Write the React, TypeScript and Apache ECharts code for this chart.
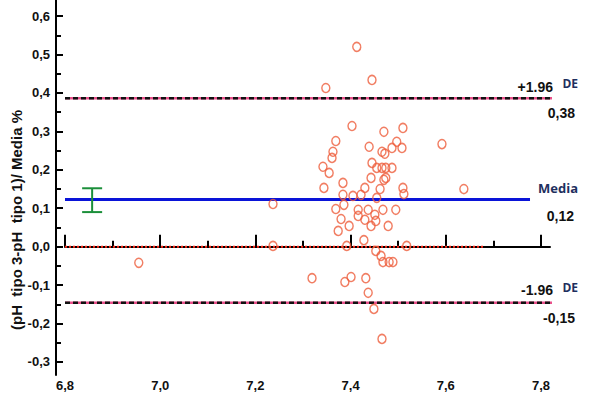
import React, { useEffect, useRef } from "react";
import * as echarts from "echarts";

// Axis ranges and tick labels
const X_MIN = 6.8;
const X_MAX = 7.819;
const Y_MIN = -0.334;
const Y_MAX = 0.642;
const X_TICKS = [6.8, 7.0, 7.2, 7.4, 7.6, 7.8];
const X_MINOR = [6.9, 7.1, 7.3, 7.5, 7.7];
const Y_TICKS = [-0.3, -0.2, -0.1, 0, 0.1, 0.2, 0.3, 0.4, 0.5, 0.6];
const Y_MINOR = [-0.25, -0.15, -0.05, 0.05, 0.15, 0.25, 0.35, 0.45, 0.55];

// Scatter: mean pH (x) vs relative difference (y)
const POINTS_X = [
  6.955, 7.237, 7.237, 7.413, 7.445, 7.348, 7.592, 7.638, 7.518, 7.403,
  7.47, 7.51, 7.369, 7.497, 7.439, 7.487, 7.508, 7.363, 7.466, 7.472,
  7.361, 7.445, 7.342, 7.355, 7.455, 7.466, 7.474, 7.487, 7.443, 7.474,
  7.47, 7.384, 7.344, 7.43, 7.462, 7.51, 7.512, 7.384, 7.405, 7.422,
  7.455, 7.386, 7.369, 7.416, 7.437, 7.468, 7.495, 7.38, 7.416, 7.43,
  7.451, 7.453, 7.397, 7.443, 7.479, 7.374, 7.428, 7.392, 7.453, 7.464,
  7.468, 7.481, 7.489, 7.319, 7.401, 7.388, 7.432, 7.437, 7.449, 7.466,
];
const POINTS_Y = [
  -0.042, 0.111, 0.002, 0.52, 0.434, 0.413, 0.267, 0.15, 0.002, 0.314,
  0.299, 0.309, 0.275, 0.273, 0.26, 0.257, 0.257, 0.247, 0.247, 0.242,
  0.231, 0.218, 0.208, 0.192, 0.205, 0.205, 0.205, 0.205, 0.179, 0.179,
  0.174, 0.166, 0.153, 0.153, 0.15, 0.153, 0.137, 0.135, 0.132, 0.135,
  0.127, 0.109, 0.098, 0.096, 0.096, 0.096, 0.096, 0.072, 0.08, 0.07,
  0.083, 0.067, 0.054, 0.054, 0.054, 0.041, 0.017, 0.002, -0.011, -0.024,
  -0.04, -0.04, -0.04, -0.082, -0.079, -0.092, -0.082, -0.12, -0.162, -0.24,
];

// Reference lines
const MEAN = 0.123;
const UPPER = 0.386;
const LOWER = -0.146;
const LINE_START = 6.8;
const LIMIT_END = 7.871;
const MEAN_END = 7.777;
const ZERO_END = 7.68;
// Confidence interval of the mean: [x, low, high]
const CI = [6.857, 0.09, 0.152];

const LABEL_UPPER = "+1.96";
const LABEL_LOWER = "-1.96";
const LABEL_DE = "DE";
const LABEL_MEDIA = "Media";
const VAL_UPPER = "0,38";
const VAL_MEAN = "0,12";
const VAL_LOWER = "-0,15";
const Y_NAME = "(pH  tipo 3-pH  tipo 1)/ Media %";

const SANS = "'Liberation Sans', Arial, sans-serif";
const fmt = (v: number) => v.toFixed(1).replace(".", ",");

export default function App() {
  const ref = useRef<HTMLDivElement>(null);
  useEffect(() => {
    if (!ref.current) return;
    const chart = echarts.init(ref.current, undefined, { renderer: "svg" });
    const pts = POINTS_X.map((x, i) => [x, POINTS_Y[i]]);
    const axisFont = { fontFamily: SANS, fontWeight: "bold" as const, fontSize: 13, color: "#111" };
    const option: any = {
      animation: false,
      backgroundColor: "#fff",
      grid: { left: 65, right: 50, top: 0, bottom: 45 },
      xAxis: [
        {
          type: "value", min: X_MIN, max: X_MAX, position: "bottom",
          axisLine: { show: true, lineStyle: { color: "#000", width: 2 } },
          axisTick: { show: true, inside: true, length: 12, lineStyle: { color: "#000", width: 2 }, customValues: X_TICKS },
          axisLabel: { show: true, customValues: X_TICKS, formatter: fmt, margin: 4, ...axisFont },
          splitLine: { show: false },
        },
        {
          type: "value", min: X_MIN, max: X_MAX, position: "bottom",
          axisLine: { show: false },
          axisTick: { show: true, inside: true, length: 6, lineStyle: { color: "#000", width: 2 }, customValues: X_MINOR },
          axisLabel: { show: false },
          splitLine: { show: false },
        },
      ],
      yAxis: [
        {
          type: "value", min: Y_MIN, max: Y_MAX, position: "left", offset: 9,
          axisLine: { show: true, lineStyle: { color: "#000", width: 2 } },
          axisTick: { show: true, inside: true, length: 7, lineStyle: { color: "#000", width: 2 }, customValues: Y_TICKS },
          axisLabel: { show: true, customValues: Y_TICKS, formatter: fmt, margin: 6, ...axisFont },
          splitLine: { show: false },
        },
        {
          type: "value", min: Y_MIN, max: Y_MAX, position: "left", offset: 9,
          axisLine: { show: false },
          axisTick: { show: true, inside: true, length: 5, lineStyle: { color: "#000", width: 2 }, customValues: Y_MINOR },
          axisLabel: { show: false },
          splitLine: { show: false },
        },
      ],
      series: [
        {
          type: "line", data: [[LINE_START, 0], [ZERO_END, 0]], symbol: "none", clip: false,
          lineStyle: { color: "#ff2a1a", width: 2, type: [2, 2] }, z: 2,
        },
        {
          type: "line", data: [[LINE_START, MEAN], [MEAN_END, MEAN]], symbol: "none", clip: false,
          lineStyle: { color: "#0a14d8", width: 3 }, z: 2,
        },
        {
          type: "line", data: [[LINE_START, UPPER], [LIMIT_END, UPPER]], symbol: "none", clip: false,
          lineStyle: { color: "#e8508a", width: 2.5 }, z: 2,
        },
        {
          type: "line", data: [[LINE_START, UPPER], [LIMIT_END, UPPER]], symbol: "none", clip: false,
          lineStyle: { color: "#111", width: 2.5, type: [5, 3] }, z: 3,
        },
        {
          type: "line", data: [[LINE_START, LOWER], [LIMIT_END, LOWER]], symbol: "none", clip: false,
          lineStyle: { color: "#e8508a", width: 2.5 }, z: 2,
        },
        {
          type: "line", data: [[LINE_START, LOWER], [LIMIT_END, LOWER]], symbol: "none", clip: false,
          lineStyle: { color: "#111", width: 2.5, type: [5, 3] }, z: 3,
        },
        {
          type: "custom", data: [CI], z: 4, clip: false,
          renderItem: (params: any, api: any) => {
            const top = api.coord([api.value(0), api.value(2)]);
            const bot = api.coord([api.value(0), api.value(1)]);
            const hw = 10;
            const st = { stroke: "#1b8f3a", lineWidth: 2 };
            return {
              type: "group",
              children: [
                { type: "line", shape: { x1: top[0], y1: top[1], x2: bot[0], y2: bot[1] }, style: st },
                { type: "line", shape: { x1: top[0] - hw, y1: top[1], x2: top[0] + hw, y2: top[1] }, style: st },
                { type: "line", shape: { x1: bot[0] - hw, y1: bot[1], x2: bot[0] + hw, y2: bot[1] }, style: st },
              ],
            };
          },
        },
        {
          type: "scatter", data: pts, symbol: "circle", symbolSize: [8, 9], z: 5,
          itemStyle: { color: "rgba(255,255,255,0)", borderColor: "#ee5e3c", borderWidth: 1.5 },
        },
      ],
      graphic: [
        {
          type: "text", x: 16, y: 220, rotation: Math.PI / 2,
          style: { text: Y_NAME, font: `bold 15px ${SANS}`, fill: "#111", align: "center", verticalAlign: "middle" },
        },
        { type: "text", x: 553, y: 87, style: { text: LABEL_UPPER, font: `bold 14px ${SANS}`, fill: "#111", align: "right", verticalAlign: "middle" } },
        { type: "text", x: 578, y: 83, style: { text: LABEL_DE, font: "bold 12px 'Open Sans', sans-serif", fill: "#1e2f5e", align: "right", verticalAlign: "middle" } },
        { type: "text", x: 575, y: 113, style: { text: VAL_UPPER, font: `bold 14px ${SANS}`, fill: "#111", align: "right", verticalAlign: "middle" } },
        { type: "text", x: 578, y: 188, style: { text: LABEL_MEDIA, font: "bold 13px 'Open Sans', sans-serif", fill: "#1e2f5e", align: "right", verticalAlign: "middle" } },
        { type: "text", x: 574, y: 216, style: { text: VAL_MEAN, font: `bold 14px ${SANS}`, fill: "#111", align: "right", verticalAlign: "middle" } },
        { type: "text", x: 553, y: 290, style: { text: LABEL_LOWER, font: `bold 14px ${SANS}`, fill: "#111", align: "right", verticalAlign: "middle" } },
        { type: "text", x: 578, y: 287, style: { text: LABEL_DE, font: "bold 12px 'Open Sans', sans-serif", fill: "#1e2f5e", align: "right", verticalAlign: "middle" } },
        { type: "text", x: 575, y: 318, style: { text: VAL_LOWER, font: `bold 14px ${SANS}`, fill: "#111", align: "right", verticalAlign: "middle" } },
      ],
    };
    chart.setOption(option);
    return () => chart.dispose();
  }, []);
  return (
    <div
      ref={ref}
      style={{ position: "fixed", left: 0, top: 0, width: 600, height: 420, background: "#fff" }}
    />
  );
}
